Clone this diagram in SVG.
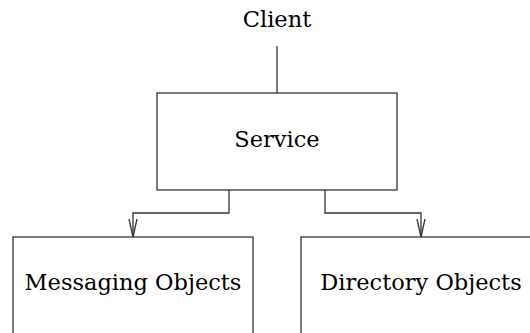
<svg xmlns="http://www.w3.org/2000/svg" width="530" height="333" viewBox="0 0 530 333">
<style>
.box{fill:#fff;stroke:#333;stroke-width:1.3}
.ln{fill:none;stroke:#333;stroke-width:1.3}
text{font-family:"DejaVu Serif","Liberation Serif",serif;font-size:22.5px;fill:#000;text-anchor:middle}
</style>
<defs>
<marker id="v" viewBox="0 0 20 10" refX="19" refY="5" markerWidth="20" markerHeight="10" markerUnits="userSpaceOnUse" orient="auto">
<path d="M1,1 L19,5 L1,9" fill="none" stroke="#333" stroke-width="1.3"/>
</marker>
</defs>
<g id="connectors">
<path class="ln" d="M277,46 V93"/>
<path class="ln" d="M229,190 V213 H133 V237" marker-end="url(#v)"/>
<path class="ln" d="M325,190 V213 H421 V237" marker-end="url(#v)"/>
</g>
<g id="client"><text x="277" y="27">Client</text></g>
<g id="service"><rect class="box" x="157" y="93" width="240" height="97"/><text x="277" y="147">Service</text></g>
<g id="messaging"><rect class="box" x="13" y="237" width="240" height="110"/><text x="133" y="290">Messaging Objects</text></g>
<g id="directory"><rect class="box" x="301" y="237" width="240" height="110"/><text x="421" y="290">Directory Objects</text></g>
</svg>
